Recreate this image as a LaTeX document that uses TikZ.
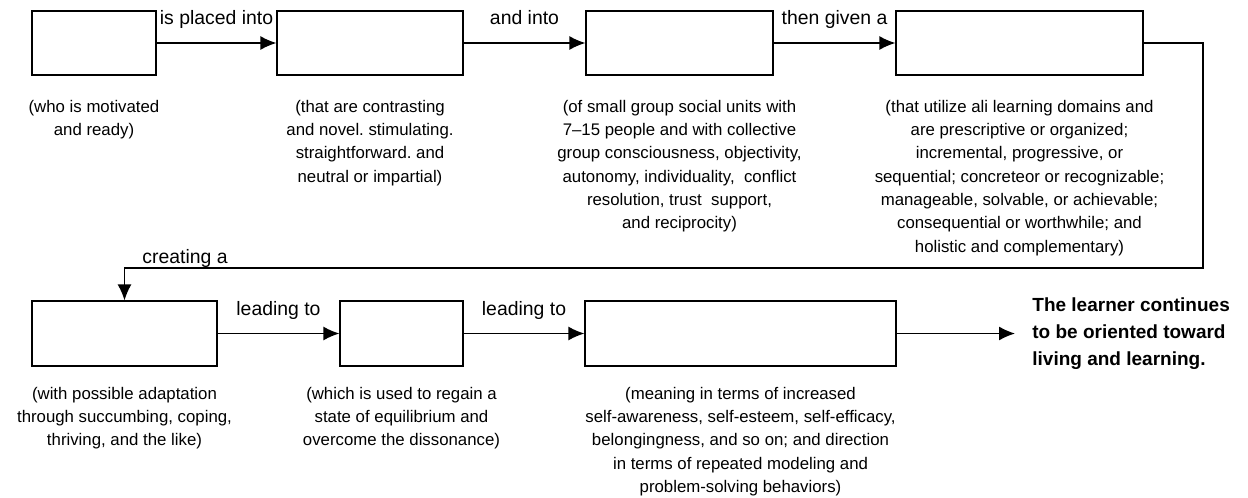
\documentclass[tikz,border=0pt]{standalone}
\usepackage{fontspec}
\setmainfont{Liberation Sans}
\usetikzlibrary{positioning,arrows.meta}

\begin{document}
\frenchspacing
\begin{tikzpicture}[x=0.5pt, y=-0.5pt,
    box/.style={draw, line width=0.65pt, inner sep=0pt, minimum height=32pt},
    caption/.style={inner sep=0pt, align=center, font=\fontsize{8.4}{11.65}\selectfont},
    flow/.style={line width=0.65pt, -{Latex[length=8pt,width=7pt]}},
    edgelabel/.style={midway, anchor=base, yshift=9pt, inner sep=0pt, font=\fontsize{9.7}{11}\selectfont}]
    \useasboundingbox (0,0) rectangle (1248,498);

      % Top row
      \node[box, minimum width=62pt]   (learner)  at (94, 43) {};
      \node[box, minimum width=93pt]   (settings) at (370, 43) {};
      \node[box, minimum width=93.5pt] (groups)   at (679.5, 43) {};
      \node[box, minimum width=123.5pt](tasks)    at (1019.5, 43) {};

      % Bottom row
      \node[box, minimum width=92.5pt, minimum height=32.5pt] (conflict)  at (124.5, 333.5) {};
      \node[box, minimum width=61.5pt, minimum height=32.5pt] (process)   at (401.5, 333.5) {};
      \node[box, minimum width=155.5pt, minimum height=32.5pt](outcomes)  at (740.5, 333.5) {};

      % Captions
      \node[caption, below=12pt of learner] (caplearner) {(who is motivated\\and ready)};
      \node[caption, below=12pt of settings] (capsettings) {(that are contrasting\\and novel. stimulating.\\straightforward. and\\neutral or impartial)};
      \node[caption, below=12pt of groups] (capgroups) {(of small group social units with\\7--15 people and with collective\\group consciousness, objectivity,\\autonomy, individuality,\ \ conflict\\resolution, trust\ \ support,\\and reciprocity)};
      \node[caption, below=12pt of tasks] (captasks) {(that utilize ali learning domains and\\are prescriptive or organized;\\incremental, progressive, or\\sequential; concreteor or recognizable;\\manageable, solvable, or achievable;\\consequential or worthwhile; and\\holistic and complementary)};
      \node[caption, below=10pt of conflict] (capconflict) {(with possible adaptation\\through succumbing, coping,\\thriving, and the like)};
      \node[caption, below=10pt of process] (capprocess) {(which is used to regain a\\state of equilibrium and\\overcome the dissonance)};
      \node[caption, below=10pt of outcomes] (capoutcomes) {(meaning in terms of increased\\self-awareness, self-esteem, self-efficacy,\\belongingness, and so on; and direction\\in terms of repeated modeling and\\problem-solving behaviors)};

      % Connectors
      \draw[flow] (learner.east) -- (settings.west) node[edgelabel] {is placed into};
      \draw[flow] (settings.east) -- (groups.west) node[edgelabel] {and into};
      \draw[flow] (groups.east) -- (tasks.west) node[edgelabel] {then given a};
      \draw[flow] (conflict.east) -- (process.west) node[edgelabel] {leading to};
      \draw[flow] (process.east) -- (outcomes.west) node[edgelabel] {leading to};

      % Return path
      \coordinate (turnA) at (1203, 43);
      \coordinate (turnB) at (1203, 268);
      \coordinate (turnC) at (124.5, 268);
      \draw[flow] (tasks.east) -- (turnA) -- (turnB) -- (turnC) -- (conflict.north);
      \node[anchor=base, inner sep=0pt, font=\fontsize{9.7}{11}\selectfont] (creating) at (185, 263) {creating a};

      % Result
      \coordinate (endtip) at (1015, 333.5);
      \draw[flow] (outcomes.east) -- (endtip);
      \node[right=8.5pt of endtip, inner sep=0pt, align=left,
            font=\bfseries\fontsize{9.5}{13.5}\selectfont] (result)
            {The learner continues\\to be oriented toward\\living and learning.};
  \end{tikzpicture}
\end{document}
